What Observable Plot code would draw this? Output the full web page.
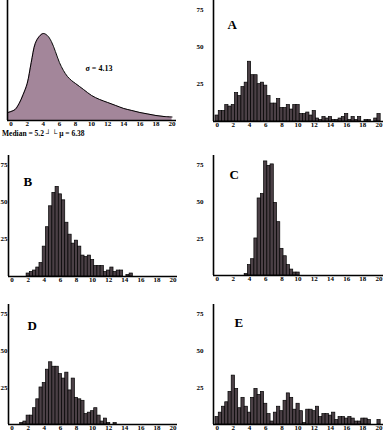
<!DOCTYPE html>
<html><head><meta charset="utf-8">
<script src="https://cdn.jsdelivr.net/npm/d3@7"></script>
<script src="https://cdn.jsdelivr.net/npm/@observablehq/plot@0.6"></script>
<style>
html,body{margin:0;padding:0;background:#fff;}
#chart{position:relative;width:383px;height:432px;overflow:hidden;background:#fff;}
.panel{position:absolute;}
.stat{position:absolute;font:bold 7.5px "Liberation Serif",serif;line-height:7px;white-space:pre;color:#000;}
</style></head><body><div id="chart"></div>
<script>
// ---- data ----
const xTicks = [0, 2, 4, 6, 8, 10, 12, 14, 16, 18, 20];
const yTicks = [25, 50, 75];
const binWidth = 0.4;
const binCenters = [0,0.4,0.8,1.2,1.6,2,2.4,2.8,3.2,3.6,4,4.4,4.8,5.2,5.6,6,6.4,6.8,7.2,7.6,8,8.4,8.8,9.2,9.6,10,10.4,10.8,11.2,11.6,12,12.4,12.8,13.2,13.6,14,14.4,14.8,15.2,15.6,16,16.4,16.8,17.2,17.6,18,18.4,18.8,19.2,19.6,20];

const countsA = [4,7,7,11,10, 11,19,17,23,26, 40,31,31,25,26, 24,17,12,12,15, 9,9,11,8,11, 11,5,5,6,4, 7,2,1,3,2, 3,1,1,2,3, 5,1,3,1,3, 0,1,1,0,2, 5];
const countsB = [0,0,0,0,0, 2,3,4,6,9, 20,33,47,56,60, 55,51,36,28,22, 24,20,14,13,14, 11,7,7,7,3, 4,6,3,4,4, 0,1,2,0,0, 0,0,0,0,0, 0,0,0,0,0, 0];
const countsC = [0,0,0,0,0, 0,0,0,0,1, 7,11,25,52,55, 77,74,75,49,36, 18,13,7,4,2, 2,0,0,0,0, 0,0,0,0,0, 0,0,0,0,0, 0,0,0,0,0, 0,0,0,0,0, 0];
const countsD = [0,0,0,1,2, 6,6,11,17,25, 28,37,42,39,39, 34,31,35,23,31, 18,17,16,7,8, 9,11,6,2,4, 1,0,1,0,0, 0,0,0,0,0, 0,0,0,0,0, 0,0,0,0,0, 0];
const countsE = [5,8,12,15,22, 33,24,11,18,12, 8,18,24,20,22, 14,7,2,8,12, 9,16,21,18,10, 14,9,1,10,10, 9,12,5,7,7, 6,8,3,5,5, 4,5,4,2,2, 4,4,3,0,0, 3];

const densityX = [-0.4,0,0.5,1,1.5,2,2.5,3,3.5,4,4.5,5,5.5,6,6.5,7,7.5,8,9,10,11,12,13,14,15,16,17,18,19,20];
const densityY = [8,9,11,17,26,37,58,77,84,87,85,79,69,58,50,44,40,37,31,25,21,18,15,12,10,8,6.5,5,4,3.5];

const sigmaText = "\u03C3 = 4.13";
const medianText = "Median = 5.2 \u2518";
const meanText = "\u2514 \u03BC = 6.38";

// ---- styling / layout ----
const xDomain = [-0.45, 20.55];
const yDomain = [0, 81];
const barFill = "#4b4046";
const areaFill = "#a3869a";
const tickFont = {fontSize: "7px", fontFamily: "'Liberation Serif', serif", fontWeight: "bold", background: "transparent", overflow: "visible"};

const chart = document.getElementById("chart");
function place(svg, left, top) {
  const d = document.createElement("div");
  d.className = "panel";
  d.style.left = left + "px";
  d.style.top = top + "px";
  d.appendChild(svg);
  chart.appendChild(d);
}

// density panel
const density = densityX.map((x, i) => ({x, y: densityY[i]}));
const p0 = Plot.plot({
  width: 190, height: 132,
  marginTop: 0, marginLeft: 7, marginRight: 14, marginBottom: 12,
  style: tickFont,
  x: {domain: xDomain, ticks: xTicks, tickSize: 0, tickPadding: 1, tickFormat: "d", label: null},
  y: {domain: [0, 120], axis: null},
  marks: [
    Plot.areaY(density, {x: "x", y: "y", fill: areaFill, curve: "catmull-rom"}),
    Plot.lineY(density, {x: "x", y: "y", stroke: "#000", strokeWidth: 1, curve: "catmull-rom"}),
    Plot.ruleY([0], {stroke: "#000", strokeWidth: 1.3}),
    Plot.ruleX([xDomain[0]], {stroke: "#000", strokeWidth: 1.6}),
    Plot.text([sigmaText], {frameAnchor: "top-left", dx: 78, dy: 65, text: d => d, textAnchor: "start", fontSize: 8, fontWeight: "bold", fontFamily: "'Liberation Serif', serif"})
  ]
});
place(p0, 0, 0);

const s1 = document.createElement("div");
s1.className = "stat"; s1.style.left = "2px"; s1.style.top = "130px"; s1.textContent = medianText;
chart.appendChild(s1);
const s2 = document.createElement("div");
s2.className = "stat"; s2.style.left = "52px"; s2.style.top = "130px"; s2.textContent = meanText;
chart.appendChild(s2);

const panels = [
  {label: "A", counts: countsA, left: 190, top: 0,   width: 193, height: 133, mt: 0, ml: 23, mr: 0,  pad: 10, dx: 14, dy: 19},
  {label: "B", counts: countsB, left: 0,   top: 150, width: 190, height: 138, mt: 5, ml: 8,  mr: 13, pad: 1,  dx: 15, dy: 21},
  {label: "C", counts: countsC, left: 190, top: 150, width: 193, height: 137, mt: 5, ml: 23, mr: 0,  pad: 10, dx: 16, dy: 14},
  {label: "D", counts: countsD, left: 0,   top: 299, width: 190, height: 137, mt: 5, ml: 8,  mr: 13, pad: 1,  dx: 19, dy: 16},
  {label: "E", counts: countsE, left: 190, top: 299, width: 193, height: 137, mt: 5, ml: 23, mr: 0,  pad: 10, dx: 21, dy: 13}
];

for (const p of panels) {
  const bins = binCenters.map((x, i) => ({x, n: p.counts[i]})).filter(d => d.n > 0);
  const svg = Plot.plot({
    width: p.width, height: p.height,
    marginTop: p.mt, marginLeft: p.ml, marginRight: p.mr, marginBottom: 12,
    style: tickFont,
    x: {domain: xDomain, ticks: xTicks, tickSize: 0, tickPadding: 1, tickFormat: "d", label: null},
    y: {domain: yDomain, ticks: yTicks, tickSize: 0, tickPadding: p.pad, label: null},
    marks: [
      Plot.rectY(bins, {x1: d => d.x - binWidth / 2, x2: d => d.x + binWidth / 2, y: "n", fill: barFill, stroke: "#000", strokeWidth: 0.7}),
      Plot.ruleY([0], {stroke: "#000", strokeWidth: 1.3}),
      Plot.ruleX([xDomain[0]], {stroke: "#000", strokeWidth: 1.6}),
      Plot.text([p.label], {frameAnchor: "top-left", dx: p.dx, dy: p.dy, text: d => d, textAnchor: "start", fontSize: 13, fontWeight: "bold", fontFamily: "'Liberation Serif', serif"})
    ]
  });
  place(svg, p.left, p.top);
}
</script></body></html>
